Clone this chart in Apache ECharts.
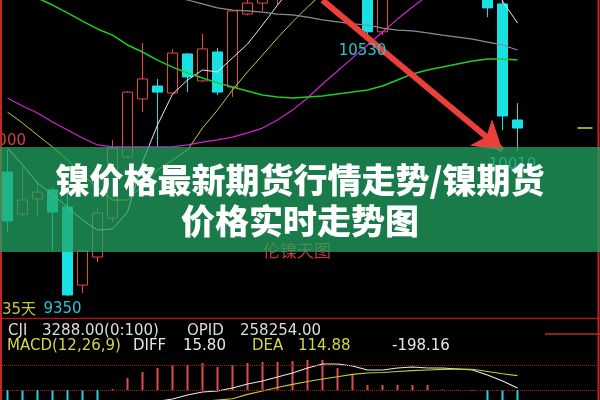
<!DOCTYPE html>
<html><head><meta charset="utf-8">
<script src="https://cdn.jsdelivr.net/npm/echarts@6/dist/echarts.min.js"></script>
<style>html,body{margin:0;padding:0;background:#000;}#c{width:600px;height:400px;}</style>
</head><body><div id="c"></div>
<script>
const categories = ['K01','K02','K03','K04','K05','K06','K07','K08','K09','K10','K11','K12','K13','K14','K15','K16','K17','K18','K19','K20','K21','K22','K23','K24','K25','K26','K27','K28','K29','K30','K31','K32','K33','K34','K35','K36','K37','K38','K39','K40'];
const openValues  = [9916,9724,9793,9834,9756,9400,9528,9706,9984,10249,10308,10276,10454,10331,10463,10303,10636,10686,10720,10800,10850,10920,10880,10950,10820,10555,10780,10900,11000,10960,11050,11010,10900,10682,10153];
const closeValues = [9692,9788,9824,9733,9355,9555,9729,10025,10280,10340,10280,10458,10349,10477,10280,10650,10686,10760,10800,10850,10920,10880,10950,10820,10555,10780,10900,11000,10960,11050,11010,10900,10664,10171,10116];
const lowValues   = [9642,9710,9710,9555,9350,9364,9505,9688,9980,10189,10030,10272,10280,10327,10267,10258,10630,10650,10677,10760,10820,10850,10850,10780,10530,10540,10750,10880,10920,10930,10980,10860,10622,10107,10010];
const highValues  = [10016,9938,9870,9847,9820,9560,9752,10062,10285,10504,10340,10477,10458,10545,10481,10655,10720,10780,10830,10880,10950,10980,10990,10970,10850,10800,10930,11050,11060,11080,11100,11040,10950,10720,10230];
const ma5Values   = [10025,9948,9866,9811,9756,9697,9651,9656,9733,9961,10130,10271,10335,10381,10372,10436,10499,10586,10677,10760,10830,10880,10900,10880,10840,10800,10790,10830,10880,10950,10990,10980,10910,10695,10595];
const ma10Values  = [10189,10139,10084,10030,9970,9902,9843,9788,9788,9856,9925,9970,10016,10116,10198,10290,10372,10449,10527,10600,10668,10730,10780,10820,10830,10840,10850,10860,10880,10900,10920,10920,10890,10830,10760];
const ma20Values  = [10253,10217,10185,10144,10107,10071,10039,10030,10030,10030,10030,10030,10039,10052,10062,10075,10094,10116,10153,10198,10253,10317,10376,10436,10495,10554,10613,10668,10720,10770,10810,10840,10860,10860,10850];
const ma60Values  = [10768,10736,10709,10677,10641,10604,10568,10540,10495,10463,10426,10394,10367,10344,10322,10303,10285,10267,10258,10253,10258,10262,10271,10280,10290,10308,10335,10363,10381,10394,10408,10422,10431,10431,10426];
const ma120Values = [10850,10840,10830,10820,10810,10800,10790,10770,10755,10740,10727,10714,10700,10682,10664,10654,10650,10645,10636,10632,10622,10609,10600,10591,10586,10572,10563,10559,10550,10540,10531,10522,10508,10495,10472];
const lastPrice = 10116;
const lastPriceCats = ['K39','K40'];
const lowLabels = [['K05',9350],['K25',10530],['K35',10010]];
const arrowFrom = ['K22',10699];
const arrowTo = ['K34',10015];
const diffValues = [-160,-170,-175,-178,-185,-180,-165,-150,-130,-110,-92,-72,-40,-16,-8,16,48,72,104,136,176,208,208,192,160,160,176,184,176,176,168,160,120,72,15.8];
const deaValues  = [-120,-125,-130,-135,-140,-145,-148,-150,-148,-140,-130,-118,-105,-92,-80,-70,-35,-8,20,45,68,88,106,125,136,140,148,155,160,165,167,166,148,130,114.88];
const macdValues = [-100,-100,-100,-100,-100,-100,-100,8,96,144,176,200,200,216,184,200,216,224,224,232,240,240,176,120,40,40,40,40,40,4,2,-8,-150,-200,-198.16];
const macdRefLines = [0,200];
const circleAt = ['K34',-168];

const candleData = openValues.map((o,i)=>[o, closeValues[i], lowValues[i], highValues[i]]);
const lastLine = categories.map(c => lastPriceCats.includes(c) ? lastPrice : null);

const RED = '#e84646', CYAN = '#19e0e2';
function maLine(name, data, color, w){
  return {name, type:'line', data, symbol:'none', xAxisIndex:0, yAxisIndex:0, silent:true,
    lineStyle:{color, width:w||1}, z:3};
}
const chart = echarts.init(document.getElementById('c'));
chart.setOption({
  animation:false,
  backgroundColor:'#000',
  grid:[{left:0,right:0,top:0,height:318,show:false},{left:0,right:0,top:355,height:45,show:false}],
  xAxis:[{type:'category',data:categories,gridIndex:0,show:false},{type:'category',data:categories,gridIndex:1,show:false}],
  yAxis:[{type:'value',min:9250,max:10700,gridIndex:0,show:false,splitLine:{show:false}},
         {type:'value',min:-80,max:280,gridIndex:1,show:false,splitLine:{show:false}}],
  series:[
    {type:'candlestick',data:candleData,barWidth:11,xAxisIndex:0,yAxisIndex:0,clip:true,silent:true,
     itemStyle:{color:'#000',color0:CYAN,borderColor:RED,borderColor0:CYAN,borderWidth:1},
     markPoint:{symbol:'circle',symbolSize:2,silent:true,
       itemStyle:{color:'rgba(0,0,0,0)'},
       label:{show:true,position:'bottom',distance:5,color:'#22c8d2',fontSize:15,fontFamily:'DejaVu Sans',formatter:p=>String(p.value),offset:[-5,0]},
       data:lowLabels.map(d=>({coord:d,value:d[1]}))},
     markLine:{silent:true,symbol:['none','arrow'],symbolSize:[26,28],label:{show:false},
       lineStyle:{color:'#ec3f3a',width:6,type:'solid'},
       data:[[{coord:arrowFrom},{coord:arrowTo}]]}
    },
    maLine('MA5',ma5Values,'#e6e6e6',1),
    maLine('MA10',ma10Values,'#c9c934',1),
    maLine('MA20',ma20Values,'#d024d0',1.2),
    maLine('MA60',ma60Values,'#22cc22',1.5),
    maLine('MA120',ma120Values,'#8c8c8c',1.2),
    maLine('LAST',lastLine,'#d8d820',1.5),
    {type:'bar',data:macdValues,xAxisIndex:1,yAxisIndex:1,barWidth:2,silent:true,clip:true,
     itemStyle:{color:p=>p.value>=0?'#e04c4c':'#1fd6e0'},
     markLine:{silent:true,symbol:'none',label:{show:false},lineStyle:{color:'#a81a1a',type:'dotted',width:1},
       data:macdRefLines.map(v=>({yAxis:v}))},
     markPoint:{silent:true,symbol:'circle',symbolSize:110,symbolOffset:[5,0],
       itemStyle:{color:'rgba(0,0,0,0)',borderColor:'#b42222',borderWidth:2},label:{show:false},
       data:[{coord:circleAt}]}
    },
    {type:'line',data:diffValues,xAxisIndex:1,yAxisIndex:1,symbol:'none',silent:true,lineStyle:{color:'#e6e6e6',width:1.2}},
    {type:'line',data:deaValues,xAxisIndex:1,yAxisIndex:1,symbol:'none',silent:true,lineStyle:{color:'#c9c934',width:1.2}}
  ],
  graphic:[
    {type:'text',x:26,y:141,z:1,style:{text:'10000',fill:'#d04040',font:'15px DejaVu Sans',align:'right',verticalAlign:'middle'}},
    {type:'text',x:2,y:310,z:1,style:{text:'35天',fill:'#c8c83c',font:'15px "DejaVu Sans","Noto Sans CJK SC"',align:'left',verticalAlign:'middle'}},
    {type:'text',x:297,y:251,z:1,style:{text:'伦镍天图',fill:'#c83a3a',font:'17px "Noto Sans CJK SC"',align:'center',verticalAlign:'middle'}},
    {type:'rect',z:100,shape:{x:0,y:147,width:600,height:105},style:{fill:'rgba(34,165,100,0.74)'}},
    {type:'text',x:300,y:180,z:101,style:{text:'镍价格最新期货行情走势/镍期货',fill:'#fff',font:'900 34px "Noto Sans CJK SC"',align:'center',verticalAlign:'middle'}},
    {type:'text',x:300,y:221,z:101,style:{text:'价格实时走势图',fill:'#fff',font:'900 34px "Noto Sans CJK SC"',align:'center',verticalAlign:'middle'}},
    {type:'line',z:50,shape:{x1:0,y1:318.5,x2:600,y2:318.5},style:{stroke:'#a01c1c',lineWidth:1.5}},
    {type:'line',z:50,shape:{x1:1,y1:0,x2:1,y2:400},style:{stroke:'#c02828',lineWidth:2}},
    {type:'line',z:50,shape:{x1:598.5,y1:0,x2:598.5,y2:400},style:{stroke:'#c02828',lineWidth:2}},
    {type:'line',z:50,shape:{x1:545,y1:334,x2:600,y2:334},style:{stroke:'#c02828',lineWidth:1.5}},
    {type:'text',x:8,y:331,z:60,style:{text:'CJI',fill:'#dcdcdc',font:'15px DejaVu Sans',verticalAlign:'middle'}},
    {type:'text',x:42,y:331,z:60,style:{text:'3288.00(0:100)',fill:'#dcdcdc',font:'15px DejaVu Sans',verticalAlign:'middle'}},
    {type:'text',x:187,y:331,z:60,style:{text:'OPID',fill:'#dcdcdc',font:'15px DejaVu Sans',verticalAlign:'middle'}},
    {type:'text',x:240,y:331,z:60,style:{text:'258254.00',fill:'#dcdcdc',font:'15px DejaVu Sans',verticalAlign:'middle'}},
    {type:'text',x:7,y:346,z:60,style:{text:'MACD(12,26,9)',fill:'#d4d44a',font:'15px DejaVu Sans',verticalAlign:'middle'}},
    {type:'text',x:133,y:346,z:60,style:{text:'DIFF',fill:'#e6e6e6',font:'15px DejaVu Sans',verticalAlign:'middle'}},
    {type:'text',x:183,y:346,z:60,style:{text:'15.80',fill:'#e6e6e6',font:'15px DejaVu Sans',verticalAlign:'middle'}},
    {type:'text',x:252,y:346,z:60,style:{text:'DEA',fill:'#d4d44a',font:'15px DejaVu Sans',verticalAlign:'middle'}},
    {type:'text',x:298,y:346,z:60,style:{text:'114.88',fill:'#d4d44a',font:'15px DejaVu Sans',verticalAlign:'middle'}},
    {type:'text',x:392,y:346,z:60,style:{text:'-198.16',fill:'#e6e6e6',font:'15px DejaVu Sans',verticalAlign:'middle'}}
  ]
});
</script></body></html>
